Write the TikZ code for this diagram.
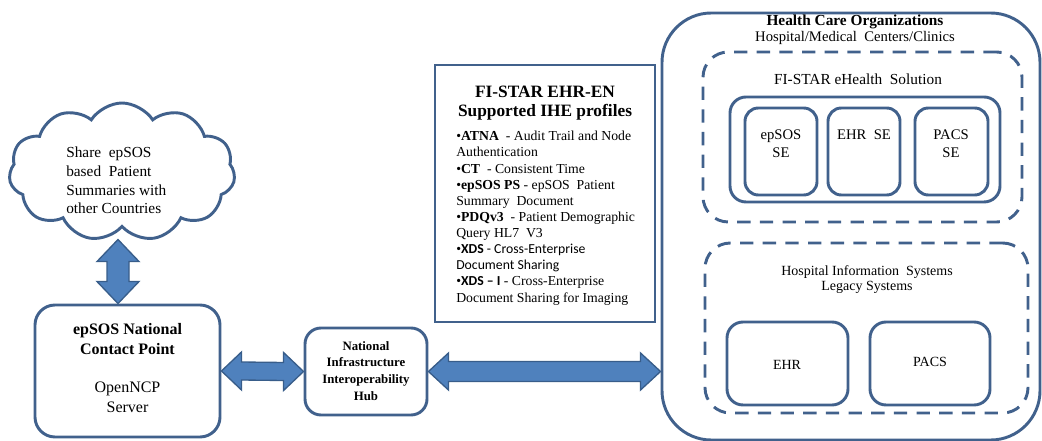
\documentclass[tikz,border=0pt]{standalone}
\usepackage{fontspec}
\setmainfont{Liberation Serif}
\setsansfont{Carlito}
\usetikzlibrary{shapes.symbols,fit,calc}
\definecolor{edge}{HTML}{41618C}
\definecolor{afill}{HTML}{4F81BD}
\definecolor{aedge}{HTML}{385D8A}
\tikzset{
  box/.style={draw=edge, line width=2.2pt, inner sep=0pt},
  dbox/.style={draw=edge, line width=2.2pt, inner sep=0pt, dash pattern=on 10pt off 7pt},
  fat/.style={fill=afill, draw=aedge, line width=1pt, line join=miter},
  txt/.style={inner sep=0pt, align=center, font=\rmfamily\fontsize{11}{13.5}\selectfont},
}
% horizontal fat double arrow: from, to, head half, shaft half, head length
\newcommand{\hfat}[5]{%
  \path[fat] (#1) -- ($(#1)+(#5,-#3)$) -- ($(#1)+(#5,-#4)$) -- ($(#2)+(-#5,-#4)$) -- ($(#2)+(-#5,-#3)$)
    -- (#2) -- ($(#2)+(-#5,#3)$) -- ($(#2)+(-#5,#4)$) -- ($(#1)+(#5,#4)$) -- ($(#1)+(#5,#3)$) -- cycle;}
\newcommand{\vfat}[5]{%
  \path[fat] (#1) -- ($(#1)+(-#3,#5)$) -- ($(#1)+(-#4,#5)$) -- ($(#2)+(-#4,-#5)$) -- ($(#2)+(-#3,-#5)$)
    -- (#2) -- ($(#2)+(#3,-#5)$) -- ($(#2)+(#4,-#5)$) -- ($(#1)+(#4,#5)$) -- ($(#1)+(#3,#5)$) -- cycle;}
\begin{document}
\begin{tikzpicture}[x=0.75pt,y=-0.75pt]
\useasboundingbox (0,0) rectangle (1042,441);

% cloud
\node[cloud, draw=edge, line width=2.2pt, cloud puffs=11, cloud puff arc=115, cloud ignores aspect,
      minimum width=226*0.75pt, minimum height=138*0.75pt, inner sep=0pt] (cloud) at (122,172) {};
\node[txt, anchor=west, align=left, font=\rmfamily\fontsize{11.5}{13.9}\selectfont] (cloudtxt) at (66,180.5)
  {Share \ epSOS\\based \ Patient\\Summaries with\\other Countries};

% NCP
\node[box, rounded corners=15pt, fit={(35,305)(220,437)}] (ncp) {};
\node[txt, font=\rmfamily\fontsize{12}{14.5}\selectfont] (ncptxt) at (127.5,368)
  {\textbf{epSOS National}\\\textbf{Contact Point}\\[14.5pt]OpenNCP\\Server};

% hub
\node[box, rounded corners=12pt, fit={(305,328)(427,415)}] (hub) {};
\node[txt, font=\rmfamily\bfseries\fontsize{9.6}{12.6}\selectfont] (hubtxt) at (366,371)
  {National\\Infrastructure\\Interoperability\\Hub};

% FI-STAR box
\node[box, fit={(435,65)(655,322)}] (fis) {};
\node[txt, font=\rmfamily\bfseries\fontsize{13}{14.6}\selectfont] (fistitle) at (545,103)
  {FI-STAR EHR-EN\\Supported IHE profiles};
\node[txt, anchor=north west, align=left, font=\rmfamily\fontsize{10.3}{12.1}\selectfont] (fislist) at (456,131)
  {•\textbf{ATNA} \ - Audit Trail and Node\\
   Authentication\\
   •\textbf{CT} \ - Consistent Time\\
   •\textbf{epSOS PS} - epSOS \ Patient\\
   Summary \ Document\\
   •\textbf{PDQv3} \ - Patient Demographic\\
   Query HL7 \ V3\\
   •{\sffamily\textbf{XDS} - Cross-Enterprise}\\
   {\sffamily Document Sharing}\\
   •{\sffamily\bfseries XDS – I} - Cross-Enterprise\\
   Document Sharing for Imaging};

% Health care organizations
\node[box, rounded corners=37pt, fit={(662,13)(1040,440)}] (hco) {};
\node[txt, font=\rmfamily\fontsize{11}{12}\selectfont] (hcotxt) at (855,30)
  {{\bfseries\fontsize{11.5}{12}\selectfont Health Care Organizations}\\Hospital/Medical \ Centers/Clinics};

\node[dbox, rounded corners=19pt, fit={(703,52)(1022,222)}] (sol) {};
\node[txt, font=\rmfamily\fontsize{11.5}{13}\selectfont] (soltxt) at (858,79) {FI-STAR eHealth \ Solution};
\node[box, rounded corners=12pt, fit={(730,97)(1000,202)}] (ses) {};
\node[box, rounded corners=10pt, fit={(745,108)(817,195)}] (se1) {};
\node[box, rounded corners=10pt, fit={(828,108)(900,195)}] (se2) {};
\node[box, rounded corners=10pt, fit={(915,108)(988,195)}] (se3) {};
\node[txt] (se1txt) at (781,143.5) {epSOS\\SE};
\node[txt] (se2txt) at (864,135) {EHR \ SE};
\node[txt] (se3txt) at (951,143.5) {PACS\\SE};

\node[dbox, rounded corners=19pt, fit={(705,243)(1028,413)}] (his) {};
\node[txt, font=\rmfamily\fontsize{10.5}{11.3}\selectfont] (histxt) at (867,279.5) {Hospital Information \ Systems\\Legacy Systems};
\node[box, rounded corners=12pt, fit={(727,322)(848,405)}] (ehr) {};
\node[box, rounded corners=12pt, fit={(870,322)(990,405)}] (pacs) {};
\node[txt, font=\rmfamily\fontsize{10.5}{12}\selectfont] (ehrtxt) at (787,365) {EHR};
\node[txt, font=\rmfamily\fontsize{10.5}{12}\selectfont] (pacstxt) at (930,362) {PACS};

% arrows
\coordinate (ctop) at ($(cloud.south)+(-4,11)$);
\coordinate (cbot) at (ctop |- ncp.north);
\vfat{ctop}{cbot}{21}{11}{22}
\hfat{ncp.east}{hub.west}{19}{9}{20}
\coordinate (hright) at (hub.east -| hco.west);
\hfat{hub.east}{hright}{18.5}{10}{20}
\end{tikzpicture}
\end{document}
